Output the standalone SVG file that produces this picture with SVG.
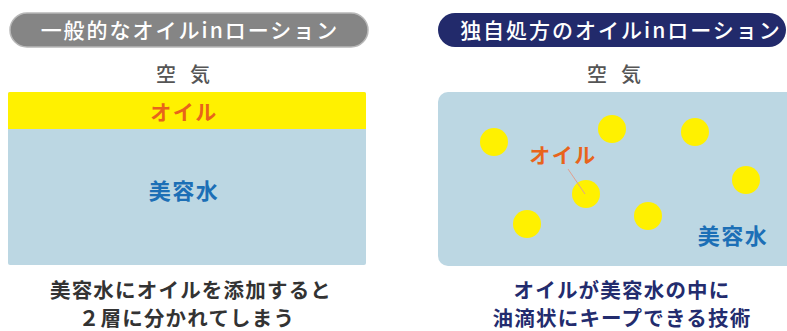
<svg xmlns="http://www.w3.org/2000/svg" width="787" height="331" viewBox="0 0 787 331">
<style>
text{font-family:"Noto Sans CJK JP","Noto Sans",sans-serif;text-anchor:middle}
.title{fill:#fff;font-size:21px;font-weight:500;letter-spacing:2px}
.air{fill:#555;font-size:20px;font-weight:500;letter-spacing:14px}
.oil{fill:#e8641b;font-size:21px;font-weight:700;letter-spacing:1.5px}
.water{fill:#1c6fb6;font-size:22px;font-weight:700;letter-spacing:1.5px}
.cap{font-size:20.5px;font-weight:700;letter-spacing:1.2px}
.drop{fill:#fff100}
</style>
<g id="left-title"><rect x="10" y="13" width="358" height="34" rx="17" fill="#858585" stroke="#b8b8b8" stroke-width="1.5"/><text class="title" x="190" y="38">一般的なオイルinローション</text></g>
<g id="right-title"><rect x="438" y="13" width="348" height="34" rx="17" fill="#222a6b"/><text class="title" x="621" y="38">独自処方のオイルinローション</text></g>
<g id="left-air"><text class="air" x="190" y="82">空気</text></g>
<g id="right-air"><text class="air" x="621" y="82">空気</text></g>
<g id="left-panel">
<rect x="8" y="92" width="358" height="173" rx="2" fill="#bcd7e3"/>
<rect x="8" y="92" width="358" height="37" rx="2" fill="#fff100"/>
<rect x="8" y="120" width="358" height="9" fill="#fff100"/>
<text class="oil" x="184" y="120">オイル</text>
<text class="water" x="184" y="199">美容水</text>
</g>
<g id="right-panel">
<rect x="438" y="92" width="360" height="174" rx="10" fill="#bcd7e3"/>
<circle class="drop" cx="494" cy="142" r="14"/>
<circle class="drop" cx="612" cy="129" r="14"/>
<circle class="drop" cx="695" cy="132" r="14"/>
<circle class="drop" cx="746" cy="180" r="14"/>
<circle class="drop" cx="586" cy="194" r="14"/>
<circle class="drop" cx="527" cy="224" r="14"/>
<circle class="drop" cx="648" cy="216" r="14"/>
<text class="oil" x="563" y="163">オイル</text>
<text class="water" x="733" y="244">美容水</text>
</g>
<g id="connectors"><line x1="568" y1="169" x2="585" y2="194" stroke="#e0a090" stroke-width="1"/></g>
<g id="left-caption"><text class="cap" fill="#333" x="191" y="298">美容水にオイルを添加すると</text><text class="cap" fill="#333" x="187" y="326">２層に分かれてしまう</text></g>
<g id="right-caption"><text class="cap" fill="#232c6e" x="622" y="298">オイルが美容水の中に</text><text class="cap" fill="#232c6e" x="622" y="326">油滴状にキープできる技術</text></g>
</svg>
